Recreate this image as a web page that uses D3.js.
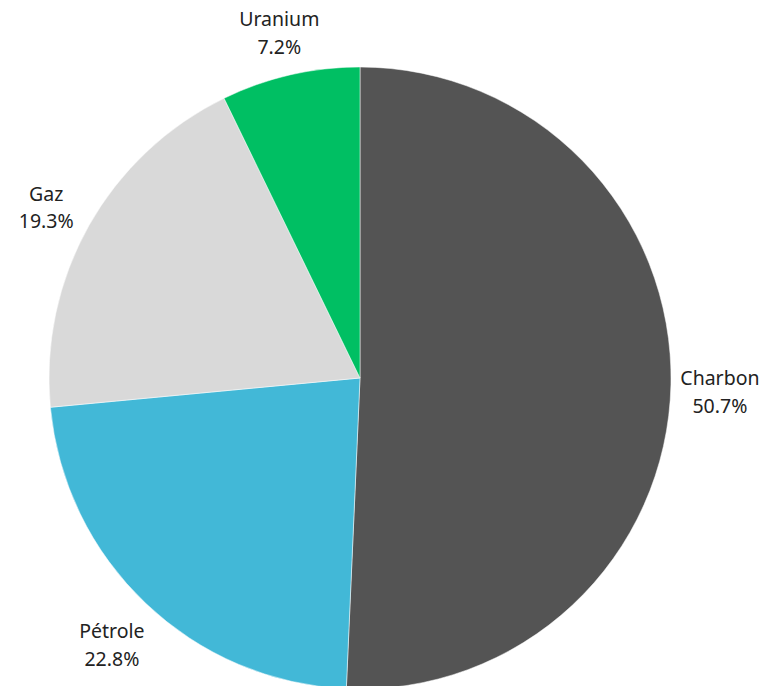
<!DOCTYPE html>
<html><head><meta charset="utf-8">
<script src="https://cdn.jsdelivr.net/npm/d3@7"></script>
<style>body{margin:0;background:#fff}svg{display:block}</style>
</head><body>
<svg id="c" width="776" height="686"></svg>
<script>
const categories = ["Charbon", "Pétrole", "Gaz", "Uranium"];
const values = [50.7, 22.8, 19.3, 7.2];
const colors = ["#545454", "#42b8d7", "#d9d9d9", "#00bf63"];

const W = 776, H = 686, cx = 360, cy = 378, r = 311, lr = 360;
const svg = d3.select("#c");
const g = svg.append("g").attr("transform", `translate(${cx},${cy})`);
const data = categories.map((c, i) => ({name: c, value: values[i], color: colors[i]}));
const pie = d3.pie().value(d => d.value).sort(null);
const arc = d3.arc().innerRadius(0).outerRadius(r);
const labelArc = d3.arc().innerRadius(lr).outerRadius(lr);
const arcs = pie(data);
g.selectAll("path").data(arcs).join("path")
  .attr("d", arc).attr("fill", d => d.data.color)
  .attr("stroke", "#fff").attr("stroke-width", 0.5);
const lab = g.selectAll("text").data(arcs).join("text")
  .attr("transform", d => `translate(${labelArc.centroid(d)})`)
  .attr("text-anchor", "middle")
  .attr("font-family", "'Noto Sans', 'Open Sans', sans-serif")
  .attr("font-size", 19.5).attr("fill", "#222");
lab.append("tspan").attr("x", 0).attr("dy", "-0.05em").text(d => d.data.name);
lab.append("tspan").attr("x", 0).attr("dy", "1.42em").text(d => d.data.value.toFixed(1) + "%");
</script>
</body></html>
